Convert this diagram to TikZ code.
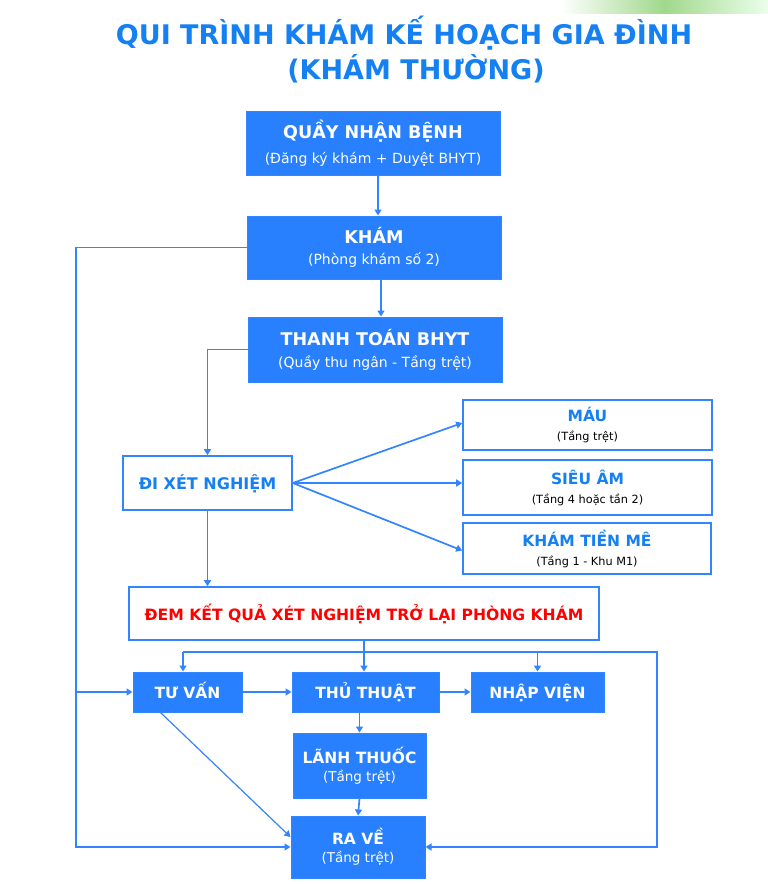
\documentclass[tikz,border=0pt]{standalone}
\usepackage{fontspec}
\setmainfont{DejaVu Sans}
\usetikzlibrary{arrows.meta}
\usetikzlibrary{calc}

\definecolor{boxBlue}{RGB}{40,128,255}
\definecolor{lineBlue}{RGB}{50,132,255}
\definecolor{textBlue}{RGB}{20,128,242}
\definecolor{leafGreen}{RGB}{120,200,90}

\begin{document}
\begin{tikzpicture}[
    x=1pt, y=-1pt,
    line width=1.7pt,
    fullBox/.style={rectangle, fill=boxBlue, draw=lineBlue, line width=1pt, text=white, align=center, inner sep=0pt},
    openBox/.style={rectangle, fill=white, draw=lineBlue, line width=1.6pt, text=textBlue, align=center, inner sep=0pt},
    conn/.style={draw=lineBlue, line width=1.7pt, -{Triangle[length=6pt,width=7pt]}},
    ]

    % Determines the boundries
    \path[use as bounding box] (0,0) rectangle (768,884);
    \shade[left color=white, right color=green!8!white, middle color=leafGreen!70] (560,0) rectangle (768,13);

    % font sizes
    \def\hd{\bfseries\fontsize{17.5}{20}\selectfont}   % heading in a box
    \def\hdd{\bfseries\fontsize{15.5}{18}\selectfont}  % heading in a small box
    \def\sm{\fontsize{14}{16}\selectfont}              % subline in a box
    \def\smm{\fontsize{11.3}{13}\selectfont}           % subline in the test boxes
    \def\eq{\vphantom{ẬẤ}}                             % same height for one-liners

    % The title
    \node[text=textBlue, font=\bfseries\fontsize{27}{30}\selectfont] (title1) at (404,33) {QUI TRÌNH KHÁM KẾ HOẠCH GIA ĐÌNH};
    \node[text=textBlue, font=\bfseries\fontsize{27}{30}\selectfont] (title2) at (416,69) {(KHÁM THƯỜNG)};

    % main column
    \node[fullBox, minimum width=254, minimum height=64] (Q) at (373,143) {\hd QUẦY NHẬN BỆNH\\[9pt]\sm (Đăng ký khám + Duyệt BHYT)};
    \node[fullBox, minimum width=254, minimum height=63] (K) at (374,247.5) {\hd KHÁM\\[9pt]\sm (Phòng khám số 2)};
    \node[fullBox, minimum width=254, minimum height=65] (T) at (375,349.5) {\hd THANH TOÁN BHYT\\[9pt]\sm (Quầy thu ngân - Tầng trệt)};

    % the tests
    \node[openBox, minimum width=169, minimum height=54] (X) at (207.5,483) {\bfseries\fontsize{16}{19}\selectfont\eq ĐI XÉT NGHIỆM};
    \node[openBox, minimum width=249, minimum height=50] (M) at (587.5,425) {\hdd MÁU\\[7pt]\color{black}\smm (Tầng trệt)};
    \node[openBox, minimum width=249, minimum height=55] (S) at (587.5,487.5) {\hdd SIÊU ÂM\\[7pt]\color{black}\smm (Tầng 4 hoặc tần 2)};
    \node[openBox, minimum width=248, minimum height=51] (KT) at (587,548.5) {\hdd KHÁM TIỀN MÊ\\[7pt]\color{black}\smm (Tầng 1 - Khu M1)};

    \node[openBox, text=red, minimum width=470, minimum height=53] (R) at (364,613.5) {\bfseries\fontsize{15.6}{18}\selectfont\eq ĐEM KẾT QUẢ XÉT NGHIỆM TRỞ LẠI PHÒNG KHÁM};

    % the last row
    \node[fullBox, minimum width=109, minimum height=40] (TV) at (187.5,692) {\hdd\eq TƯ VẤN};
    \node[fullBox, minimum width=147, minimum height=40] (TT) at (365.5,692) {\hdd\eq THỦ THUẬT};
    \node[fullBox, minimum width=133, minimum height=40] (NV) at (537.5,692) {\hdd\eq NHẬP VIỆN};
    \node[fullBox, minimum width=133, minimum height=65] (LT) at (359.5,765.5) {\hdd LÃNH THUỐC\\[6pt]\fontsize{13.5}{16}\selectfont (Tầng trệt)};
    \node[fullBox, minimum width=134, minimum height=62] (RV) at (358,847) {\hdd RA VỀ\\[6pt]\fontsize{13.5}{16}\selectfont (Tầng trệt)};

    % Corners of the long lines
    \coordinate (lft) at (76,847);
    \coordinate (rgt) at (657,652);
    \coordinate (busL) at (183,652);

    % down the main column
    \draw[conn] ([xshift=5pt]Q.south) -- ([xshift=4pt]K.north);
    \draw[conn] ([xshift=7pt]K.south) -- ([xshift=6pt]T.north);
    \draw[conn] (T.west) -| (X.north);

    % left return line
    \draw[conn] (K.west) -| (lft) -- (RV.west);
    \draw[conn] (TV.west -| lft) -- (TV.west);

    % to the tests
    \draw[conn] (X.east) -- ([yshift=2pt]M.west);
    \draw[conn] (X.east) -- (X.east -| S.west);
    \draw[conn] (X.east) -- ([yshift=-2pt]KT.west);
    \draw[conn] (X.south) -- (X.south |- R.north);

    % from the results
    \draw[conn] (R.south) -- (R.south |- TT.north);
    \draw[conn] (busL) -- (rgt) |- (RV.east);
    \draw[conn] (busL) -- (busL |- TV.north);
    \draw[conn] (NV.north |- rgt) -- (NV.north);

    % the last row
    \draw[conn] (TV.east) -- (TT.west);
    \draw[conn] (TT.east) -- (NV.west);
    \draw[conn] (LT.north |- TT.south) -- (LT.north);
    \draw[conn] (LT.south) -- (RV.north);
    \draw[conn, line width=1.2pt] ([xshift=-27pt]TV.south) -- ([yshift=10pt]RV.west);
\end{tikzpicture}
\end{document}
